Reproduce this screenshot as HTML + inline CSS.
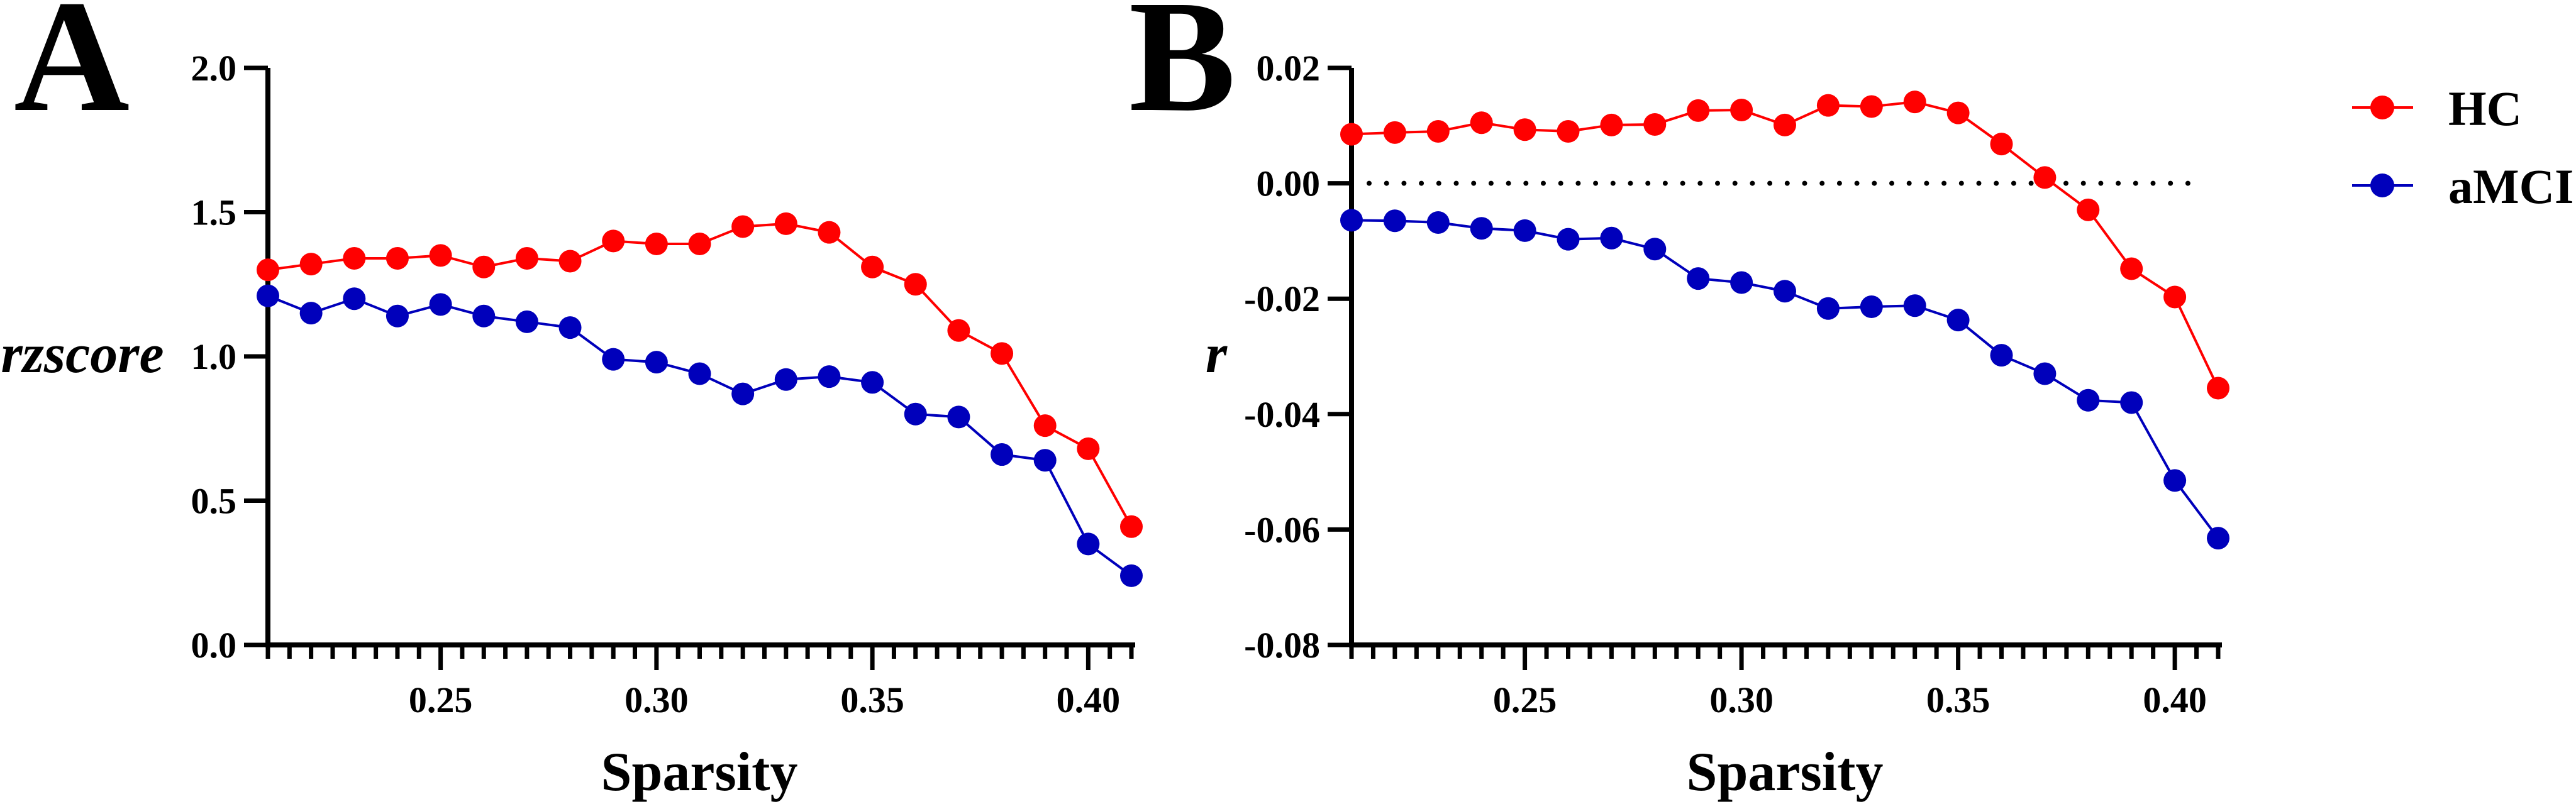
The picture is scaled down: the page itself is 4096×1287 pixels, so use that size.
<!DOCTYPE html>
<html><head><meta charset="utf-8"><style>
html,body{margin:0;padding:0;background:#fff;width:4096px;height:1287px;overflow:hidden}
svg{display:block}
svg text{font-family:"Liberation Serif","Times New Roman",Times,"DejaVu Serif",serif !important;font-weight:bold;fill:#000}
</style></head><body>
<svg id="fig" width="4096" height="1287" viewBox="0 0 4096 1287" xmlns="http://www.w3.org/2000/svg" font-family="Liberation Serif, Times New Roman, serif">
</svg>
<script>
const sparsity=[0.21,0.22,0.23,0.24,0.25,0.26,0.27,0.28,0.29,0.30,0.31,0.32,0.33,0.34,0.35,0.36,0.37,0.38,0.39,0.40,0.41];
const hcA=[1.30,1.32,1.34,1.34,1.35,1.31,1.34,1.33,1.40,1.39,1.39,1.45,1.46,1.43,1.31,1.25,1.09,1.01,0.76,0.68,0.41];
const amciA=[1.21,1.15,1.20,1.14,1.18,1.14,1.12,1.10,0.99,0.98,0.94,0.87,0.92,0.93,0.91,0.80,0.79,0.66,0.64,0.35,0.24];
const hcB=[0.0085,0.0088,0.0090,0.0105,0.0093,0.0090,0.0101,0.0102,0.0126,0.0127,0.0101,0.0135,0.0133,0.0141,0.0122,0.0068,0.0010,-0.0046,-0.0148,-0.0197,-0.0355];
const amciB=[-0.0064,-0.0065,-0.0068,-0.0078,-0.0082,-0.0097,-0.0095,-0.0114,-0.0165,-0.0172,-0.0187,-0.0217,-0.0214,-0.0212,-0.0237,-0.0298,-0.0330,-0.0376,-0.0380,-0.0515,-0.0615];
const yTicksA=[0,0.5,1.0,1.5,2.0];
const yTickLabelsA=["0.0","0.5","1.0","1.5","2.0"];
const yTicksB=[-0.08,-0.06,-0.04,-0.02,0,0.02];
const yTickLabelsB=["-0.08","-0.06","-0.04","-0.02","0.00","0.02"];
const xTicks=[0.25,0.30,0.35,0.40];
const xTickLabels=["0.25","0.30","0.35","0.40"];

const NS="http://www.w3.org/2000/svg";
const svg=document.getElementById('fig');
const FONT='"Liberation Serif","Times New Roman",Times,"DejaVu Serif",serif';
function mk(tag,attrs,parent){const e=document.createElementNS(NS,tag);for(const k in attrs)e.setAttribute(k,attrs[k]);if(tag==='text'){e.setAttribute('font-family',FONT);e.setAttribute('font-weight','bold');e.style.fontFamily=FONT;}(parent||svg).appendChild(e);return e;}

function panel(cfg){
  const g=mk('g',{});
  
  
  const x0=cfg.x0,x1=cfg.x1,yTop=108,yBot=1026;
  const xs=v=>x0+(v-0.21)/(0.41-0.21)*(x1-x0);
  const ys=v=>yBot-(v-cfg.ymin)/(cfg.ymax-cfg.ymin)*(yBot-yTop);
  const ya=mk('line',{x1:x0,y1:yTop,x2:x0,y2:yBot+4,stroke:'#000','stroke-width':8},g);
  
  const xa=mk('line',{x1:x0-4,y1:yBot,x2:x1+6,y2:yBot,stroke:'#000','stroke-width':8},g);
  
  for(let i=0;i<=40;i++){
    const v=0.21+i*0.005; const X=xs(v);
    const major=xTicks.some(t=>Math.abs(t-v)<1e-6);
    const t=mk('line',{x1:X,y1:yBot,x2:X,y2:yBot+(major?40:22),stroke:'#000','stroke-width':7},g);
    
  }
  xTicks.forEach((v,i)=>{
    const t=mk('text',{x:xs(v),y:1133,'font-size':58,'text-anchor':'middle'},g);
    t.textContent=xTickLabels[i];
    
  });
  cfg.yt.forEach((v,i)=>{
    const Y=ys(v);
    const t=mk('line',{x1:x0-38,y1:Y,x2:x0,y2:Y,stroke:'#000','stroke-width':7},g);
    
    const l=mk('text',{x:x0-50,y:Y+20,'font-size':58,'text-anchor':'end'},g);
    l.textContent=cfg.yl[i];
    
  });
  if(cfg.zeroLine){
    const z=mk('line',{x1:x0+28,y1:ys(0),x2:3506,y2:ys(0),stroke:'#000','stroke-width':8,'stroke-linecap':'round','stroke-dasharray':'0 27.7'},g);
    
  }
  [[cfg.hc,'#ff0000','hc'],[cfg.am,'#0000bb','amci']].forEach(([arr,col,nm])=>{
    const pts=arr.map((v,i)=>xs(sparsity[i])+','+ys(v)).join(' ');
    const pl=mk('polyline',{points:pts,fill:'none',stroke:col,'stroke-width':4},g);
    
    arr.forEach((v,i)=>{
      const c=mk('circle',{cx:xs(sparsity[i]),cy:ys(v),r:18,fill:col},g);
      
    });
  });
  const xt=mk('text',{x:cfg.xtx,y:1257,'font-size':88,'text-anchor':'middle'},g);
  xt.textContent='Sparsity';
  
  const yt=mk('text',{x:cfg.ytx,y:592,'font-size':88,'font-style':'italic','text-anchor':'middle'},g);
  yt.textContent=cfg.ytitle;
  
  const pl=mk('text',{x:cfg.lx,y:175,'font-size':255},g);
  pl.textContent=cfg.letter;
  
}
panel({name:'panel-a',x0:426,x1:1799,ymin:0,ymax:2,yt:yTicksA,yl:yTickLabelsA,hc:hcA,am:amciA,xtx:1112,ytx:131,ytitle:'rzscore',letter:'A',lx:22});
panel({name:'panel-b',x0:2149,x1:3527,ymin:-0.08,ymax:0.02,yt:yTicksB,yl:yTickLabelsB,hc:hcB,am:amciB,xtx:2838,ytx:1934,ytitle:'r',letter:'B',lx:1795,zeroLine:true});

const lg=mk('g',{});


[['HC','#ff0000',171],['aMCI','#0000bb',295]].forEach(([lab,col,y])=>{
  const e=mk('g',{},lg);
  
  
  mk('line',{x1:3740,y1:y,x2:3837,y2:y,stroke:col,'stroke-width':4},e);
  mk('circle',{cx:3788,cy:y,r:19,fill:col},e);
  const t=mk('text',{x:3893,y:y+28,'font-size':78},e);
  t.textContent=lab;
});
</script>
</body></html>
